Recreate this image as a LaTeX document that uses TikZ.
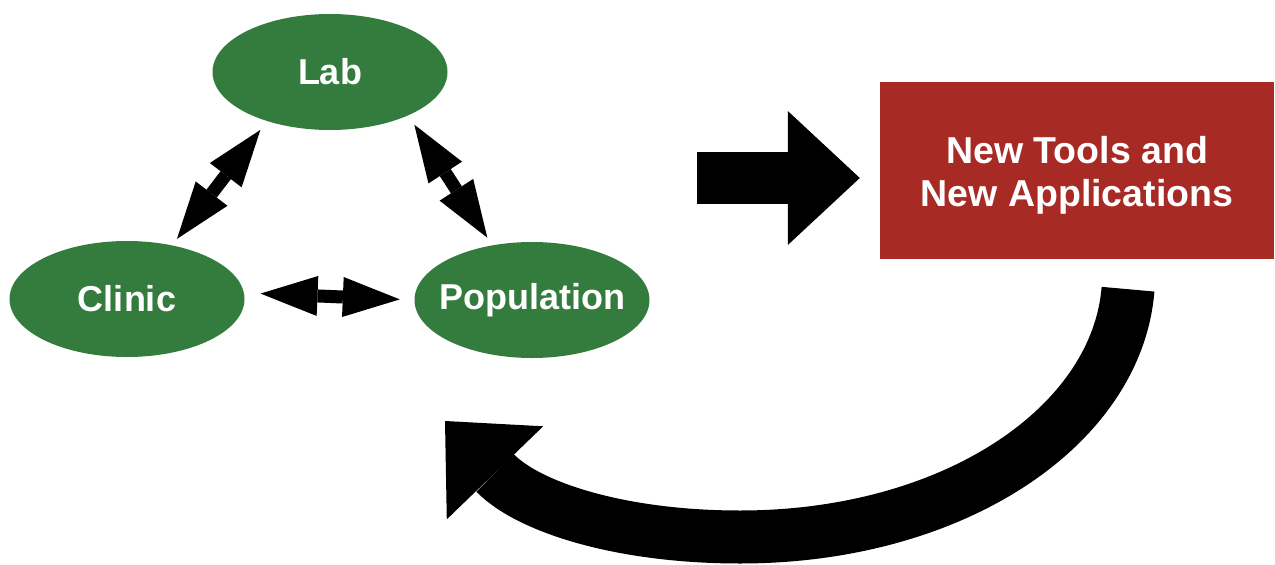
\documentclass[tikz,border=0pt]{standalone}
\usepackage{fontspec}
\setmainfont{Liberation Sans}
\usetikzlibrary{shapes.geometric,arrows.meta,calc,bending}

\definecolor{leafgreen}{HTML}{347C3E}
\definecolor{brick}{HTML}{A82A25}

\begin{document}
\begin{tikzpicture}[x=1pt,y=-1pt,
  site/.style={ellipse, fill=leafgreen, inner sep=0pt,
    minimum width=235pt, minimum height=116pt, text=white,
    font=\fontsize{36}{43}\selectfont\bfseries},
  outcome/.style={rectangle, fill=brick, inner sep=0pt,
    minimum width=394pt, minimum height=177pt},
  outcome text/.style={text=white, align=center, inner sep=0pt,
    font=\fontsize{37.5}{43.6}\selectfont\bfseries},
  link/.style={line width=13pt,
    arrows={Triangle[length=57pt,width=40pt,line width=0pt]-Triangle[length=57pt,width=40pt,line width=0pt]}},
  flow/.style={line width=53pt,
    arrows={-Triangle[length=72pt,width=134pt,line width=0pt,quick]}}
]
\useasboundingbox (0,0) rectangle (1275,565);

% the three settings
\node[site] (lab) at (330,72) {\makebox[0pt]{Lab}};
\node[site] (clinic) at (127,299) {\makebox[0pt]{Clinic}};
\node[site] (population) at (532,300) {\makebox[0pt]{Population}};

% the result
\node[outcome, label={[outcome text, yshift=-5pt]center:New Tools and\\New Applications}]
  (tools) at (1077,170.5) {};

% two-way exchanges between the settings
\draw[link, shorten <=11pt, shorten >=8pt] (lab.218) -- (clinic.50);
\draw[link, shorten <=11pt, shorten >=9pt] (lab.331) -- (population.126);
\draw[link, shorten <=16.5pt, shorten >=14.5pt] (clinic.3.5) -- (population.180);

% forward arrow to the result
\coordinate (push) at (697,178);
\draw[flow, line width=52pt, shorten >=20pt] (push) -- (push -| tools.west);

% feedback arrow back to the settings
\coordinate (ret) at (445,421);
\draw[flow] ($(tools.south)+(51,30)$) .. controls (1117,426) and (954,537) .. (740,537)
  .. controls (620,537) and (528,507) .. (ret);
\end{tikzpicture}
\end{document}
